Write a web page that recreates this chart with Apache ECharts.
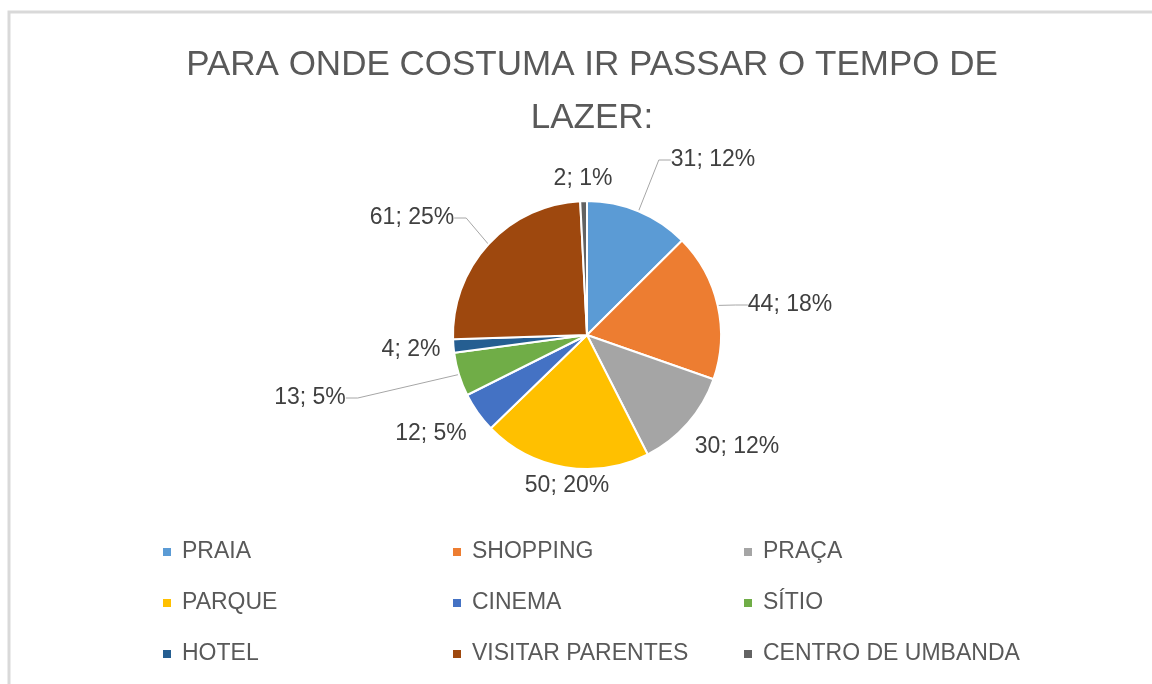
<!DOCTYPE html>
<html>
<head>
<meta charset="utf-8">
<script src="https://cdn.jsdelivr.net/npm/echarts@6/dist/echarts.min.js"></script>
<style>
  html, body { margin: 0; padding: 0; background: #fff; }
  #main { width: 1152px; height: 684px; }
</style>
</head>
<body>
<div id="main"></div>
<script>
const categories = ['PRAIA', 'SHOPPING', 'PRAÇA', 'PARQUE', 'CINEMA', 'SÍTIO', 'HOTEL', 'VISITAR PARENTES', 'CENTRO DE UMBANDA']
const values = [31, 44, 30, 50, 12, 13, 4, 61, 2]
const colors = ['#5b9bd5', '#ed7d31', '#a5a5a5', '#ffc000', '#4472c4', '#70ad47', '#255e91', '#9e480e', '#636363']

const font = 'Liberation Sans'
const chart = echarts.init(document.getElementById('main'))

// where Excel put each data label (centre of text), and whether it drew a leader line
const labelSpots = [[713, 160], [790, 305], [737, 447], [567, 486], [431, 434], [310, 398], [411, 350], [412, 218], [583, 179]]
const withLine = [true, true, false, false, false, true, false, true, false]

// one legend per column, three rows each
const legendCol = (names, left) => ({
    orient: 'vertical',
    left: left,
    top: 534,
    data: names,
    icon: 'rect',
    itemWidth: 10,
    itemHeight: 10,
    itemGap: 25,
    textStyle: { fontFamily: font, fontSize: 23, color: '#595959', lineHeight: 26, padding: [0, 0, 0, 5] }
})

chart.setOption({
    color: colors,
    graphic: [{
        type: 'rect',
        shape: { x: 9, y: 12, width: 1160, height: 700 },
        style: { fill: 'none', stroke: '#d9d9d9', lineWidth: 3 },
        silent: true
    }],
    title: {
        text: 'PARA ONDE COSTUMA IR PASSAR O TEMPO DE\nLAZER:',
        left: 587,
        textAlign: 'center',
        top: 34,
        textStyle: { fontFamily: font, fontSize: 35, fontWeight: 'normal', color: '#595959', lineHeight: 53 }
    },
    legend: [
        legendCol([categories[0], categories[3], categories[6]], 156),
        legendCol([categories[1], categories[4], categories[7]], 446),
        legendCol([categories[2], categories[5], categories[8]], 737)
    ],
    series: [{
        type: 'pie',
        center: [587, 335],
        radius: 134,
        startAngle: 90,
        percentPrecision: 0,
        data: categories.map((name, i) => ({
            name: name,
            value: values[i],
            labelLine: { show: withLine[i] }
        })),
        itemStyle: { borderColor: '#fff', borderWidth: 2 },
        label: {
            formatter: '{c}; {d}%',
            fontFamily: font,
            fontSize: 23,
            color: '#404040'
        },
        labelLine: {
            length: 12,
            length2: 12,
            lineStyle: { color: '#a6a6a6', width: 1 }
        },
        labelLayout: p => ({
            x: labelSpots[p.dataIndex][0],
            y: labelSpots[p.dataIndex][1],
            align: 'center',
            verticalAlign: 'middle'
        }),
        emphasis: { disabled: true }
    }]
})
</script>
</body>
</html>
